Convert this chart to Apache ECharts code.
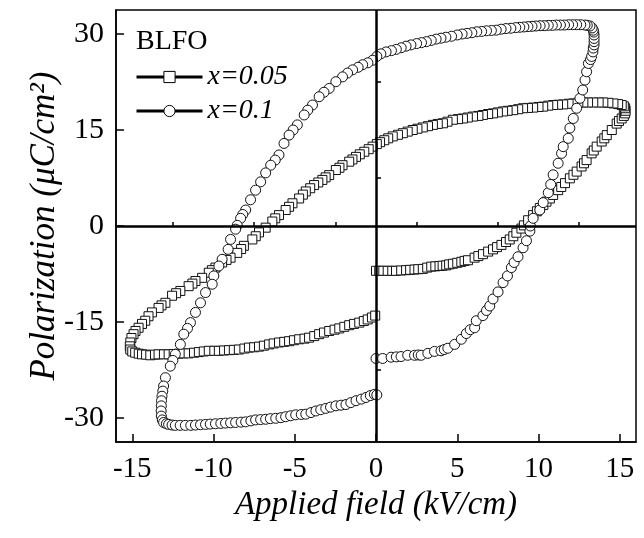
<!DOCTYPE html>
<html>
<head>
<meta charset="utf-8">
<script src="https://cdn.jsdelivr.net/npm/echarts@6/dist/echarts.min.js"></script>
<style>
html,body{margin:0;padding:0;background:#fff;}
#chart{width:644px;height:538px;}
</style>
</head>
<body>
<div id="chart"></div>
<script>
// ---- data (E in kV/cm, P in uC/cm^2) ----
const seriesNames = ['x=0.05', 'x=0.1'];
const xMajorTicks = [-15, -10, -5, 0, 5, 10, 15];
const xMinorTicks = [-12.5, -7.5, -2.5, 2.5, 7.5, 12.5];
const yMajorTicks = [-30, -15, 0, 15, 30];
const yMinorTicks = [-22.5, -7.5, 7.5, 22.5];

const loopX005 = [
[0,-7.0],[0.2,-7.0],[0.45,-7.0],[0.72,-7.0],[1.0,-7.0],[1.23,-7.0],[1.55,-6.95],[1.85,-6.9],[2.1,-6.85],[2.37,-6.8],[2.6,-6.75],[2.88,-6.7],[3.15,-6.5],[3.4,-6.35],[3.65,-6.3],[3.91,-6.25],[4.1,-6.2],[4.32,-6.15],[4.5,-6.0],[4.73,-5.9],[5.0,-5.75],[5.25,-5.6],[5.45,-5.45],[5.66,-5.35],[6.07,-4.95],[6.3,-4.7],[6.58,-4.4],[6.9,-4.0],[7.2,-3.65],[7.45,-3.3],[7.72,-2.95],[8.0,-2.5],[8.23,-2.1],[8.45,-1.6],[8.64,-1.05],[8.95,-0.4],[9.1,0.1],[9.36,0.9],[9.67,1.7],[9.9,2.3],[10.08,2.8],[10.3,3.3],[10.49,3.8],[10.7,4.3],[10.9,4.85],[11.21,5.6],[11.4,6.1],[11.63,6.7],[11.93,7.45],[12.15,8.0],[12.35,8.5],[12.65,9.3],[12.8,9.8],[12.96,10.3],[13.27,11.35],[13.4,11.8],[13.58,12.4],[13.89,13.2],[14.05,13.7],[14.2,14.2],[14.51,15.0],[14.81,16.0],[14.95,16.4],[15.12,16.8],[15.25,17.2],[15.33,17.6],[15.36,18.0],[15.33,18.4],[15.25,18.7],[15.12,18.9],[14.9,19.05],[14.61,19.15],[14.3,19.25],[13.99,19.3],[13.7,19.3],[13.37,19.3],[13.05,19.3],[12.76,19.3],[12.45,19.25],[12.14,19.15],[11.85,19.1],[11.52,19.0],[11.2,18.95],[10.9,18.9],[10.6,18.8],[10.29,18.65],[10.0,18.6],[9.67,18.5],[9.35,18.45],[9.05,18.4],[8.75,18.25],[8.44,18.1],[8.1,18.0],[7.82,17.9],[7.5,17.75],[7.2,17.6],[6.9,17.5],[6.58,17.35],[6.3,17.2],[5.97,17.1],[5.65,16.95],[5.35,16.8],[5.05,16.7],[4.73,16.6],[4.4,16.3],[4.12,16.05],[3.8,15.95],[3.5,15.8],[3.2,15.6],[2.88,15.4],[2.55,15.2],[2.26,15.0],[1.95,14.75],[1.65,14.5],[1.35,14.25],[1.03,14.0],[0.75,13.7],[0.51,13.4],[0.25,13.1],[0.05,12.8],
[-0.21,12.4],[-0.45,12.0],[-0.72,11.6],[-1.0,11.2],[-1.23,10.8],[-1.45,10.4],[-1.65,10.05],[-2.06,9.5],[-2.25,9.1],[-2.47,8.75],[-2.88,7.95],[-3.1,7.6],[-3.3,7.2],[-3.55,6.8],[-3.81,6.4],[-4.05,5.9],[-4.32,5.4],[-4.5,4.9],[-4.73,4.3],[-5.14,3.55],[-5.35,3.0],[-5.56,2.5],[-5.97,1.7],[-6.2,1.2],[-6.38,0.7],[-6.79,-0.26],[-7.2,-1.0],[-7.4,-1.6],[-7.61,-2.1],[-8.13,-3.1],[-8.3,-3.6],[-8.54,-4.2],[-8.95,-4.95],[-9.2,-5.3],[-9.47,-5.7],[-9.88,-6.5],[-10.1,-6.9],[-10.29,-7.3],[-10.7,-8.1],[-11.11,-8.6],[-11.3,-9.0],[-11.53,-9.4],[-12.04,-10.15],[-12.3,-10.5],[-12.55,-10.9],[-12.96,-12.0],[-13.2,-12.4],[-13.38,-12.8],[-13.79,-13.5],[-14.0,-14.1],[-14.2,-14.8],[-14.4,-15.3],[-14.61,-15.9],[-14.8,-16.4],[-14.92,-16.9],[-15.05,-17.5],[-15.12,-18.2],[-15.15,-18.8],[-15.12,-19.3],[-15.0,-19.6],[-14.82,-19.8],[-14.6,-19.95],[-14.4,-20.05],[-14.15,-20.1],[-13.89,-20.2],[-13.6,-20.1],[-13.38,-20.05],[-13.05,-20.05],[-12.76,-20.05],[-12.45,-20.0],[-12.14,-19.95],[-11.85,-19.9],[-11.53,-19.9],[-11.2,-19.8],[-10.9,-19.7],[-10.6,-19.6],[-10.29,-19.5],[-9.95,-19.5],[-9.67,-19.5],[-9.35,-19.45],[-9.05,-19.4],[-8.75,-19.35],[-8.44,-19.3],[-8.1,-19.15],[-7.82,-19.0],[-7.5,-18.95],[-7.2,-18.85],[-6.9,-18.7],[-6.58,-18.5],[-6.3,-18.35],[-5.97,-18.2],[-5.65,-18.1],[-5.35,-18.0],[-5.05,-17.85],[-4.73,-17.7],[-4.4,-17.6],[-4.12,-17.45],[-3.8,-17.2],[-3.5,-16.9],[-3.2,-16.65],[-2.88,-16.4],[-2.55,-16.2],[-2.26,-16.0],[-1.95,-15.75],[-1.65,-15.5],[-1.35,-15.3],[-1.03,-15.1],[-0.75,-14.85],[-0.51,-14.6],[-0.25,-14.3],[-0.05,-14.0]
];

const loopX01 = [
[0,-20.7],[0.41,-20.7],[0.93,-20.5],[1.25,-20.45],[1.54,-20.4],[1.95,-20.2],[2.37,-20.2],[2.6,-20.15],[2.78,-20.2],[3.19,-19.9],[3.6,-19.6],[4.0,-19.5],[4.2,-19.3],[4.42,-19.1],[4.84,-18.5],[5.25,-17.7],[5.56,-16.8],[5.8,-16.2],[6.07,-15.9],[6.17,-14.8],[6.58,-14.0],[6.8,-13.2],[7.0,-12.5],[7.2,-11.4],[7.51,-10.3],[7.82,-8.85],[8.09,-7.8],[8.33,-6.5],[8.5,-5.7],[8.74,-4.8],[9.05,-3.4],[9.26,-2.3],[9.47,-0.8],[9.5,0],[9.67,1.2],[10.08,2.5],[10.29,3.65],[10.6,5.2],[10.75,6.5],[10.9,8.0],[11.21,9.8],[11.42,11.35],[11.52,12.4],[11.83,13.7],[11.93,15.3],[12.14,16.8],[12.35,18.4],[12.55,19.95],[12.72,21.25],[12.86,22.8],[12.96,24.1],[13.07,25.4],
[13.2,26.0],[13.27,26.5],[13.35,27.2],[13.37,27.8],[13.42,28.3],[13.42,28.8],[13.42,29.3],[13.42,29.85],[13.4,30.3],[13.37,30.6],[13.3,30.95],[13.17,31.25],[13.0,31.35],[12.86,31.4],
[12.6,31.45],[12.35,31.45],[12.1,31.45],[11.85,31.45],[11.6,31.4],[11.35,31.4],[11.1,31.4],[10.85,31.35],[10.6,31.35],[10.35,31.3],[10.1,31.3],[9.85,31.25],[9.6,31.2],[9.35,31.15],[9.1,31.1],[8.85,31.05],[8.6,31.0],[8.3,30.9],[8.0,30.85],[7.7,30.75],[7.4,30.6],[7.1,30.55],[6.8,30.5],[6.5,30.4],[6.2,30.35],[5.9,30.2],[5.6,30.1],[5.3,30.0],[5.0,29.85],[4.65,29.65],[4.3,29.5],[4.0,29.35],[3.7,29.2],[3.4,29.0],[3.1,28.8],[2.8,28.65],[2.5,28.5],[2.15,28.3],[1.85,28.1],[1.55,27.85],[1.25,27.6],[0.95,27.4],[0.62,27.2],[0.3,26.9],[0.05,26.5],
[-0.21,25.9],[-0.5,25.5],[-0.82,25.2],[-1.1,24.8],[-1.44,24.4],[-1.75,23.9],[-2.06,23.3],[-2.47,22.55],[-2.88,21.5],[-3.2,20.9],[-3.5,20.2],[-3.91,18.9],[-4.2,18.1],[-4.42,17.35],[-4.84,15.8],[-5.1,15.0],[-5.35,14.2],[-5.66,12.9],[-5.97,11.1],[-6.2,10.3],[-6.48,9.5],[-6.79,8.3],[-7.1,6.9],[-7.41,5.6],[-7.72,4.1],[-8.02,2.5],[-8.2,1.8],[-8.33,1.2],[-8.54,0.1],[-8.64,-0.5],[-8.95,-2.1],[-9.1,-3.65],[-9.47,-5.2],[-9.67,-6.25],[-9.98,-7.8],[-10.08,-9.1],[-10.49,-10.4],[-10.8,-12.0],[-11.11,-13.5],[-11.42,-15.1],[-11.6,-16.0],[-11.83,-16.9],[-12.04,-18.5],[-12.35,-20.05],[-12.5,-21.0],[-12.66,-21.9],[-12.96,-23.7],[-13.07,-25.0],[-13.12,-25.8],[-13.17,-26.6],[-13.2,-27.3],[-13.21,-28.1],[-13.22,-28.9],[-13.21,-29.7],[-13.15,-30.3],[-13.07,-30.7],[-12.9,-30.9],[-12.76,-31.0],[-12.55,-31.1],[-12.35,-31.15],[-12.05,-31.15],[-11.73,-31.15],[-11.4,-31.15],[-11.11,-31.1],[-10.8,-31.05],[-10.49,-31.0],[-10.2,-30.95],[-9.88,-30.9],[-9.55,-30.85],[-9.26,-30.8],[-8.95,-30.75],[-8.64,-30.7],[-8.3,-30.65],[-8.02,-30.6],[-7.7,-30.45],[-7.41,-30.3],[-7.1,-30.25],[-6.79,-30.2],[-6.5,-30.1],[-6.17,-30.05],[-5.85,-29.95],[-5.56,-29.8],[-5.25,-29.65],[-4.94,-29.5],[-4.6,-29.45],[-4.32,-29.4],[-4.0,-29.15],[-3.7,-28.9],[-3.4,-28.7],[-3.09,-28.5],[-2.8,-28.3],[-2.47,-28.1],[-2.15,-28.0],[-1.85,-27.9],[-1.55,-27.6],[-1.23,-27.3],[-0.9,-27.05],[-0.62,-26.8],[-0.35,-26.5],[-0.1,-26.3],[0.05,-26.4]
];

// ---- chart ----
const FONT = 'Liberation Serif';
const chart = echarts.init(document.getElementById('chart'), null, {renderer: 'canvas'});

const xRange = {min: -16, max: 16};
const yRange = {min: -33.75, max: 33.75};

const markerStyle = {color: '#fff', borderColor: '#111', borderWidth: 1};

const option = {
  backgroundColor: '#fff',
  animation: false,
  textStyle: {fontFamily: FONT},
  title: {
    text: 'BLFO', left: 136, top: 28, padding: 0,
    textStyle: {fontFamily: FONT, fontSize: 28, fontWeight: 'normal', color: '#000'}
  },
  legend: {
    orient: 'vertical', left: 135, top: 63, padding: 0,
    itemWidth: 66, itemHeight: 14, itemGap: 6,
    data: seriesNames,
    textStyle: {fontFamily: FONT, fontSize: 28, fontStyle: 'italic', color: '#000'},
    lineStyle: {color: '#000', width: 3, opacity: 1, type: 'solid'},
    itemStyle: {color: '#fff', borderColor: '#000', borderWidth: 1}
  },
  grid: {left: 116, right: 8, top: 10, bottom: 96, show: true, borderColor: '#000', borderWidth: 1.5, backgroundColor: 'transparent'},
  xAxis: [{
    type: 'value', min: xRange.min, max: xRange.max, position: 'bottom',
    name: 'Applied field (kV/cm)', nameLocation: 'middle', nameGap: 47,
    nameTextStyle: {fontFamily: FONT, fontSize: 33, fontStyle: 'italic', color: '#000'},
    axisLine: {show: true, onZero: false, lineStyle: {color: '#000', width: 1.5}},
    axisTick: {show: true, inside: true, length: 8, customValues: xMajorTicks, lineStyle: {color: '#000', width: 1.5}},
    axisLabel: {customValues: xMajorTicks, fontFamily: FONT, fontSize: 29, color: '#000', margin: 13},
    splitLine: {show: false}
  }, {
    type: 'value', min: xRange.min, max: xRange.max, position: 'bottom', offset: 0,
    axisLine: {show: false},
    axisTick: {show: true, inside: true, length: 4, customValues: xMinorTicks, lineStyle: {color: '#000', width: 1.5}},
    axisLabel: {show: false},
    splitLine: {show: false}
  }],
  yAxis: [{
    type: 'value', min: yRange.min, max: yRange.max, position: 'left',
    name: 'Polarization (μC/cm²)', nameLocation: 'middle', nameGap: 54, nameRotate: 90,
    nameMoveOverlap: false,
    nameTextStyle: {fontFamily: FONT, fontSize: 35, fontStyle: 'italic', color: '#000'},
    axisLine: {show: true, onZero: false, lineStyle: {color: '#000', width: 1.5}},
    axisTick: {show: true, inside: true, length: 8, customValues: yMajorTicks, lineStyle: {color: '#000', width: 1.5}},
    axisLabel: {customValues: yMajorTicks, fontFamily: FONT, fontSize: 30, color: '#000', margin: 12},
    splitLine: {show: false}
  }, {
    type: 'value', min: yRange.min, max: yRange.max, position: 'left', offset: 0,
    axisLine: {show: false},
    axisTick: {show: true, inside: true, length: 5, customValues: yMinorTicks, lineStyle: {color: '#000', width: 1.5}},
    axisLabel: {show: false},
    splitLine: {show: false}
  }],
  series: [{
    name: seriesNames[0], type: 'line', data: loopX005,
    symbol: 'rect', symbolSize: 9, showSymbol: true,
    lineStyle: {width: 0, opacity: 0},
    itemStyle: markerStyle,
    z: 3,
    markLine: {
      silent: true, symbol: 'none', animation: false,
      label: {show: false},
      lineStyle: {color: '#000', width: 2.5, type: 'solid'},
      emphasis: {disabled: true},
      data: [{xAxis: 0}, {yAxis: 0}]
    }
  }, {
    name: seriesNames[1], type: 'line', data: loopX01,
    symbol: 'circle', symbolSize: 10, showSymbol: true,
    lineStyle: {width: 0, opacity: 0},
    itemStyle: markerStyle,
    z: 4
  }]
};
chart.setOption(option);
</script>
</body>
</html>
